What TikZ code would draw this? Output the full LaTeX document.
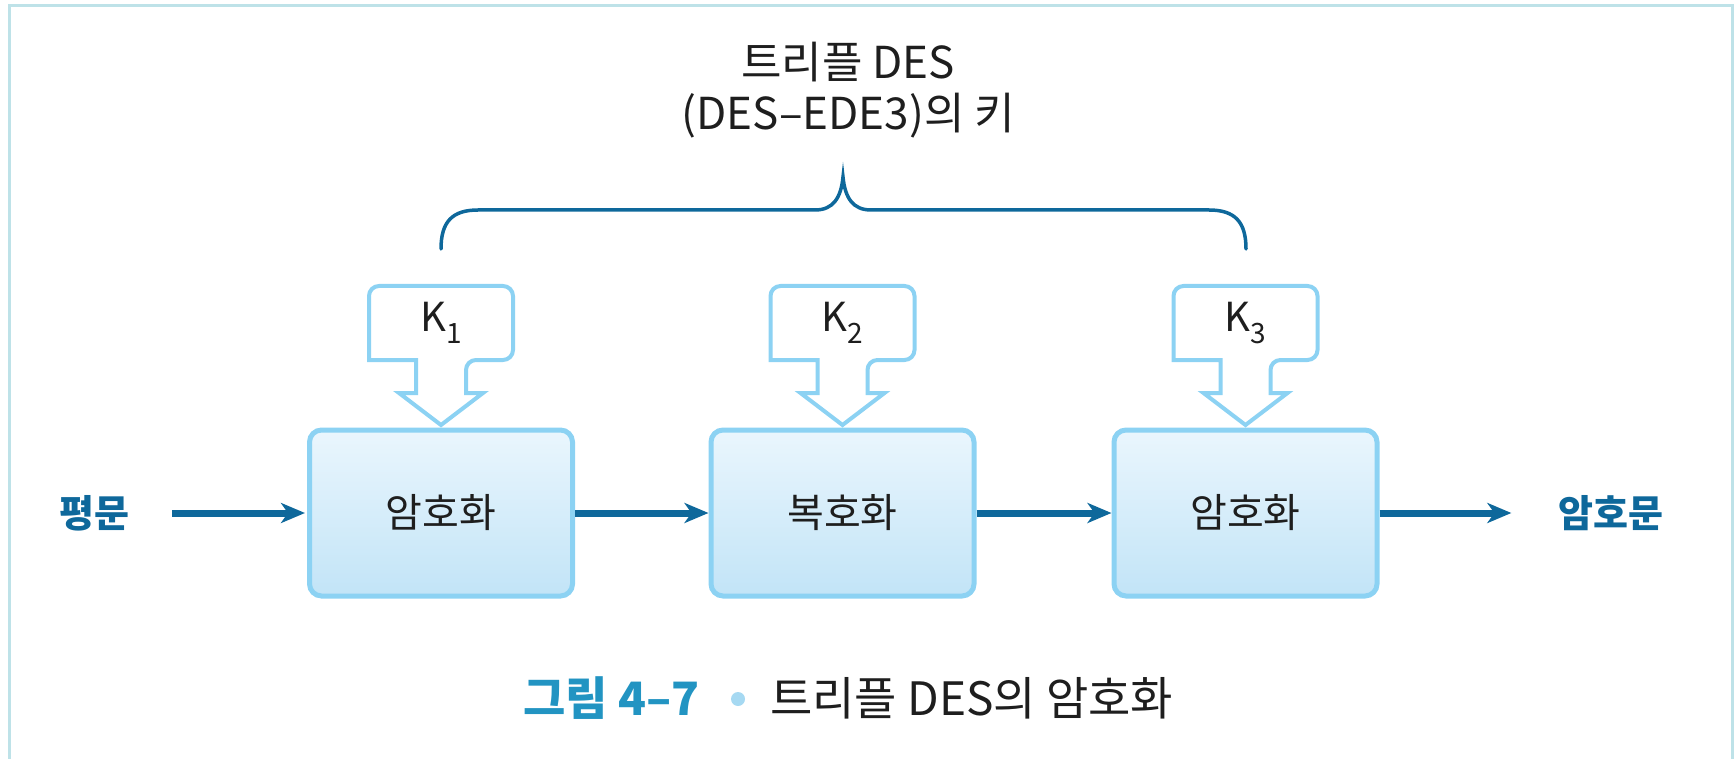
\documentclass[tikz,border=0pt]{standalone}
\usepackage{fontspec}
\setmainfont{Noto Sans CJK KR}
\usetikzlibrary{arrows.meta}
\definecolor{dblue}{RGB}{14,104,155}
\definecolor{capblue}{RGB}{34,148,194}
\definecolor{bulletc}{RGB}{166,217,242}
\definecolor{boxline}{RGB}{140,210,243}
\definecolor{boxtop}{RGB}{234,246,253}
\definecolor{boxbot}{RGB}{194,228,247}
\definecolor{framec}{RGB}{190,226,232}
\definecolor{txt}{RGB}{30,30,30}
\newcommand{\fs}[1]{\fontsize{#1}{1.2\dimexpr#1pt\relax}\selectfont}
\begin{document}
\begin{tikzpicture}[x=1pt,y=-1pt,
  procbox/.style={draw=boxline, line width=5pt, rounded corners=12pt,
    top color=boxtop, bottom color=boxbot, minimum width=263pt,
    minimum height=166pt, inner sep=0pt, text=txt, font=\fs{40}},
  keylabel/.style={inner sep=0pt, text=txt, font=\fs{40}},
  keyline/.style={draw=boxline, line width=4pt, fill=white, line join=miter},
  flow/.style={draw=dblue, line width=7pt,
    -{Stealth[length=24pt, width=20pt, inset=7pt]}},
  iolabel/.style={inner sep=0pt, text=dblue, font=\fs{38}\bfseries},
  bracec/.style={draw=dblue, line width=3.5pt, line cap=round}]
\useasboundingbox (0,0) rectangle (1735,759);
% frame
\draw[framec, line width=3pt] (9.5,759) -- (9.5,6) -- (1732,6) -- (1732,759);

% process boxes
\node[procbox] (b1) at (441,513) {암호화};
\node[procbox] (b2) at (842.5,513) {복호화};
\node[procbox] (b3) at (1245.5,513) {암호화};

% keys
\foreach \n/\x/\s in {1/441/1,2/842.5/2,3/1245.5/3}{
  \coordinate (kc\n) at (\x,323);
  \draw[keyline, shift={(kc\n)}] (-25,70) -- (-25,37) -- (-72,37)
    [rounded corners=10pt] -- (-72,-37) -- (72,-37) -- (72,37) -- (25,37)
    [sharp corners] -- (25,70) -- (42,70) -- (0,102) -- (-42,70) -- cycle;
  \node[keylabel] (k\n) at (\x,323) {K\raisebox{-12pt}{\fs{28}\s}};
}

% inputs / outputs
\node[iolabel] (in) at (94,513) {평문};
\node[iolabel] (out) at (1611,513) {암호문};

\draw[flow, shorten <=43pt, shorten >=2pt] (in) -- (b1);
\draw[flow, shorten >=0pt] (b1) -- (b2);
\draw[flow] (b2) -- (b3);
\draw[flow, shorten >=47pt] (b3) -- (out);

% brace
\draw[bracec] (441,249) .. controls (441,222) and (452,210) .. (478,210)
  -- (815,210) .. controls (833,210) and (841,198) .. (843,177)
  .. controls (845,198) and (853,210) .. (871,210)
  -- (1209,210) .. controls (1235,210) and (1246,222) .. (1246,249);

% title
\node[align=center, inner sep=0pt, text=txt, font=\fs{44}] (title) at (848,90)
  {트리플 DES\\[-2pt](DES–EDE3)의 키};

% caption
\node[anchor=west, inner sep=0pt, text=capblue, font=\fs{46}\bfseries] (capnum) at (523,698) {그림 4–7};
\node[circle, fill=bulletc, minimum size=14pt, inner sep=0pt] (dot) at (738,699) {};
\node[anchor=west, inner sep=0pt, text=txt, font=\fs{46}] (captxt) at (770,698) {트리플 DES의 암호화};
\end{tikzpicture}
\end{document}
